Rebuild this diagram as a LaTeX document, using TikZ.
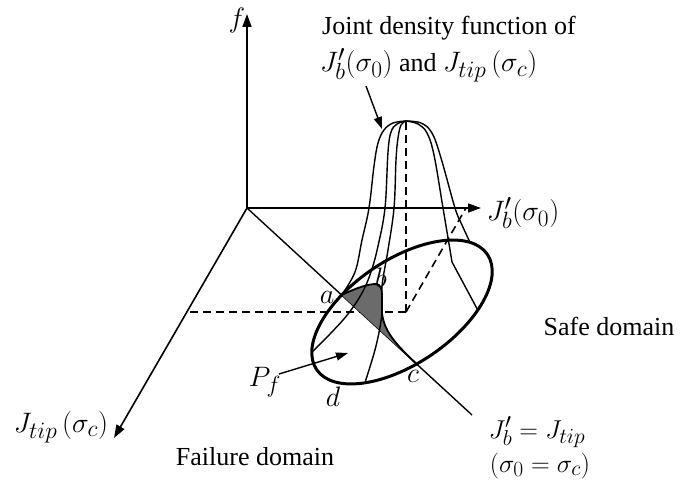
\documentclass[tikz,border=0pt]{standalone}
\usepackage{fontspec}
\setmainfont{Liberation Serif}
\usetikzlibrary{arrows.meta,intersections}
\newcommand\mth[1]{{\fontsize{24.88}{30}\selectfont\scalebox{1.13}{$#1$}}}
\newcommand\mths[1]{{\fontsize{24.88}{30}\selectfont\scalebox{1.04}{$#1$}}}
\begin{document}
\begin{tikzpicture}[x=1pt,y=-1pt,
  lbl/.style={font=\fontsize{26}{31}\selectfont, inner sep=0pt},
  axis/.style={line width=1.6pt, -{Triangle[length=13pt,width=9pt]}},
  thinline/.style={line width=1.4pt},
  dsh/.style={line width=1.6pt, dash pattern=on 8pt off 5pt},
  ell/.style={line width=3pt},
  pointer/.style={line width=1.4pt, -{Triangle[length=12pt,width=8pt]}},
  shade/.style={fill=black!58}]
\useasboundingbox (0,0) rectangle (690,484);
% key coordinates
\coordinate (O) at (247,208);
\coordinate (fTip) at (247,14);
\coordinate (jbTip) at (481,208);
\coordinate (jtTip) at (114,438);
\coordinate (Dend) at (472,415);
\coordinate (M) at (406,312);
\coordinate (P) at (406,121);
\coordinate (E) at (402,312);
\coordinate (dL) at (187,312);
\coordinate (dR) at (466,208);
% axes
\draw[axis] (O) -- (fTip);
\draw[axis] (O) -- (jbTip);
\draw[axis] (O) -- (jtTip);
% diagonal
\draw[thinline, name path=diag] (O) -- (Dend);
% ellipse
\draw[ell, name path=ellp, rotate around={34:(E)}] (E) ellipse [x radius=103, y radius=52];
\path[name intersections={of=diag and ellp, sort by=diag, by={ia,ic}}];
% dashed projections
\draw[dsh] (M) -- (P);
\draw[dsh] (M) -- (dL);
\draw[dsh] (M) -- (dR);
% shaded region
\fill[shade] (ia) .. controls (356,288) and (368,284) .. (376,284)
  .. controls (380,284) and (382,288) .. (382,295) -- (382,313)
  .. controls (384,333) and (399,347) .. (ic) -- cycle;
\draw[line width=1.8pt] (ia) .. controls (356,288) and (368,284) .. (376,284)
  .. controls (380,284) and (382,288) .. (382,295) -- (382,313)
  .. controls (384,333) and (399,347) .. (ic);
% surface curves
\draw[thinline] plot[smooth, tension=0.6] coordinates {(P) (393,123) (384,130) (378,143) (374,166) (369,208) (362,240) (355,272) (ia)};
\draw[thinline] plot[smooth, tension=0.6] coordinates {(P) (397,124) (391,132) (388,152) (385,208) (378,246) (371,272) (362,293) (348,314) (330,334) (312,352)};
\draw[thinline] plot[smooth, tension=0.6] coordinates {(P) (401,125) (398,138) (396,160) (394,208) (388,250) (382,286) (382,313) (376,346) (365,382.5)};
\draw[thinline] plot[smooth, tension=0.6] coordinates {(P) (418,124) (427,133) (434,155) (443,208) (452,262)} -- (478,310.5);
\draw[thinline] plot[smooth, tension=0.6] coordinates {(P) (421,123) (432,133) (441,158) (455,208) (462,225) (470,242.4)};
% labels
\node[lbl] (fl) at (237,20) {\mth{f}};
\node[lbl] (jbl) at (523,213) {\mth{J_b'(\sigma_0)}};
\node[lbl] (jtl) at (61,427) {\mth{J_{tip}\,(\sigma_c)}};
\node[lbl, anchor=base west] (jdf1) at (322,35) {Joint density function of};
\node[lbl, anchor=base west] (jdf2) at (320,72) {\mth{J_b'(\sigma_0)} and \mth{J_{tip}\,(\sigma_c)}};
\coordinate (jdfA) at (366,86);
\coordinate (jdfB) at (382,129);
\draw[pointer] (jdfA) -- (jdfB);
\node[lbl] (safe) at (609,326) {Safe domain};
\node[lbl] (fail) at (255,457) {Failure domain};
\node[lbl] (pf) at (265,382) {\mth{P_f}};
\coordinate (pfA) at (279,374);
\coordinate (pfB) at (348,353);
\draw[pointer] (pfA) -- (pfB);
\node[lbl] (la) at (327,297) {\mth{a}};
\node[lbl] (lb) at (381,278) {\mth{b}};
\node[lbl] (lc) at (413,376) {\mth{c}};
\node[lbl] (ld) at (333,397) {\mth{d}};
\node[lbl, anchor=base] (eq1) at (537,438) {\mths{J_b' = J_{tip}}};
\node[lbl, anchor=base] (eq2) at (540,472) {\mths{(\sigma_0 = \sigma_c)}};
\end{tikzpicture}
\end{document}
